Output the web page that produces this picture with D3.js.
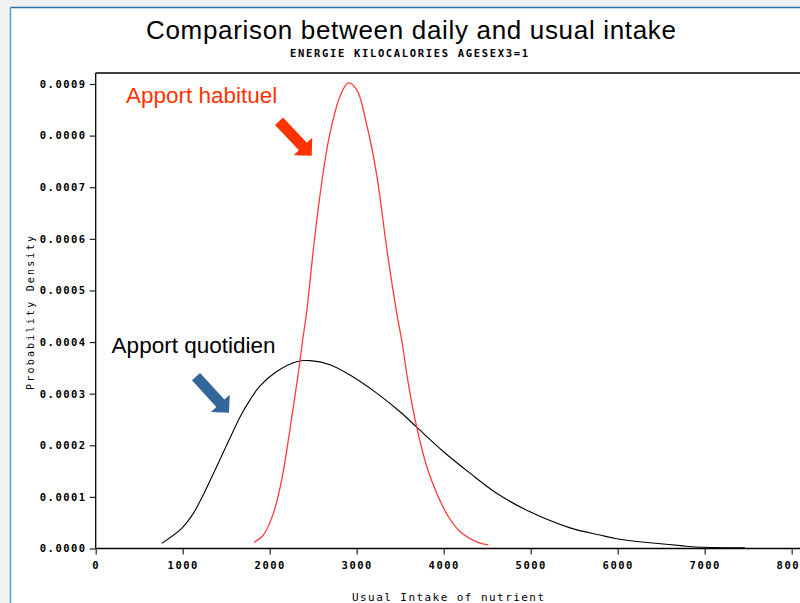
<!DOCTYPE html>
<html>
<head>
<meta charset="utf-8">
<script src="https://cdn.jsdelivr.net/npm/d3@7"></script>
<style>
  html, body { margin: 0; padding: 0; background: #f0f1f1; }
  #chart { width: 800px; height: 603px; }
  svg { display: block; }
</style>
</head>
<body>
<div id="chart"></div>
<script>
// values
const xTicks = [0, 1000, 2000, 3000, 4000, 5000, 6000, 7000, 8000]
const yTicks = [0, 0.0001, 0.0002, 0.0003, 0.0004, 0.0005, 0.0006, 0.0007, 0.0008, 0.0009]
// (the 0.0008 label really says 0.0000 in the original)
const yTickLabels = ["0.0000", "0.0001", "0.0002", "0.0003", "0.0004", "0.0005", "0.0006", "0.0007", "0.0000", "0.0009"]

// daily intake (black)
const dailyX = [759, 988, 1122, 1237, 1391, 1544, 1659, 1774, 1889, 2080, 2310, 2463, 2693, 2923, 3230, 3498, 3690, 3995, 4302, 4609, 4992, 5452, 5797, 5988, 6372, 6754, 6992, 7463]
const dailyY = [0.10, 0.39, 0.68, 1.04, 1.59, 2.14, 2.55, 2.88, 3.15, 3.43, 3.62, 3.64, 3.56, 3.36, 3.01, 2.65, 2.35, 1.88, 1.46, 1.07, 0.71, 0.40, 0.26, 0.19, 0.11, 0.05, 0.023, 0.015].map(d => d * 1e-4)

// usual intake (red)
const usualX = [1820, 1927, 2042, 2138, 2214, 2272, 2329, 2379, 2425, 2521, 2616, 2693, 2808, 2903, 3000, 3115, 3230, 3345, 3460, 3517, 3593, 3690, 3805, 3920, 4053, 4187, 4379, 4513]
const usualY = [0.12, 0.26, 0.68, 1.33, 2.10, 2.75, 3.40, 4.04, 4.59, 6.08, 7.30, 8.05, 8.76, 9.02, 8.89, 8.21, 7.24, 5.82, 4.56, 4.04, 3.20, 2.35, 1.59, 1.07, 0.62, 0.33, 0.13, 0.07].map(d => d * 1e-4)

// annotations (data units)
const noteText = ["Apport habituel", "Apport quotidien"]
const noteX = [348, 183]
const noteY = [0.000863, 0.000379]
const arrowTail = [[2107, 0.000828], [1153, 0.000333]]
const arrowTip = [[2483, 0.000761], [1532, 0.000263]]
const noteColors = ["#ff3300", "#000000"]
const arrowColors = ["#ff3300", "#336699"]

const W = 800, H = 603
const plotLeft = 95.7, plotBottom = 548.5, plotTop = 73

const svg = d3.select("#chart").append("svg").attr("width", W).attr("height", H)

// window frame look
svg.append("rect").attr("x", 0).attr("y", 0).attr("width", W).attr("height", H).attr("fill", "#f0f1f1")
svg.append("rect").attr("x", 11).attr("y", 8).attr("width", W).attr("height", H).attr("fill", "#fff")
svg.append("line").attr("x1", 10.5).attr("x2", W).attr("y1", 7.5).attr("y2", 7.5).attr("stroke", "#2a6ea8").attr("stroke-width", 1.5)
svg.append("line").attr("x1", 10.5).attr("x2", 10.5).attr("y1", 7.5).attr("y2", H).attr("stroke", "#5b9bd0").attr("stroke-width", 1.5)

const x = d3.scaleLinear().domain([0, 8000]).range([plotLeft, 791.7])
const y = d3.scaleLinear().domain([0, 0.0009]).range([plotBottom, 84])

// titles
svg.append("text")
    .attr("x", 411).attr("y", 39)
    .attr("text-anchor", "middle")
    .attr("font-family", "Liberation Sans, Arial, sans-serif")
    .attr("font-size", 26)
    .attr("textLength", 530)
    .text("Comparison between daily and usual intake")

svg.append("text")
    .attr("x", 409).attr("y", 56.5)
    .attr("text-anchor", "middle")
    .attr("font-family", "DejaVu Sans Mono, monospace")
    .attr("font-weight", "bold")
    .attr("font-size", 10.5)
    .attr("textLength", 238)
    .text("ENERGIE KILOCALORIES AGESEX3=1")

// frame lines
const frame = svg.append("g").attr("stroke", "#000").attr("stroke-width", 1.3)
frame.append("line").attr("x1", plotLeft).attr("x2", W).attr("y1", plotTop).attr("y2", plotTop)
frame.append("line").attr("x1", plotLeft).attr("x2", plotLeft).attr("y1", plotTop).attr("y2", plotBottom)
frame.append("line").attr("x1", plotLeft).attr("x2", W).attr("y1", plotBottom).attr("y2", plotBottom)

// y axis
const yAxis = svg.append("g")
    .attr("transform", `translate(${plotLeft},0)`)
    .call(d3.axisLeft(y).tickValues(yTicks).tickSize(6).tickPadding(3)
        .tickFormat((d, i) => yTickLabels[i]))
yAxis.select(".domain").remove()
yAxis.selectAll(".tick line").attr("stroke", "#222").attr("stroke-width", 1.2)
yAxis.selectAll(".tick text")
    .attr("font-family", "DejaVu Sans Mono, monospace")
    .attr("font-weight", "bold")
    .attr("font-size", 10.5)
    .attr("letter-spacing", 1.5)
    .attr("fill", "#000")

// x axis
const xAxis = svg.append("g")
    .attr("transform", `translate(0,${plotBottom})`)
    .call(d3.axisBottom(x).tickValues(xTicks).tickSize(6).tickPadding(7)
        .tickFormat(d3.format("d")))
xAxis.select(".domain").remove()
xAxis.selectAll(".tick line").attr("stroke", "#222").attr("stroke-width", 1.2)
xAxis.selectAll(".tick text")
    .attr("font-family", "DejaVu Sans Mono, monospace")
    .attr("font-weight", "bold")
    .attr("font-size", 10.5)
    .attr("letter-spacing", 1.5)
    .attr("fill", "#000")

// axis titles
svg.append("text")
    .attr("x", 448).attr("y", 601)
    .attr("text-anchor", "middle")
    .attr("font-family", "DejaVu Sans Mono, monospace")
    .attr("font-size", 11)
    .attr("textLength", 192)
    .text("Usual Intake of nutrient")

svg.append("text")
    .attr("transform", "translate(34,313) rotate(-90)")
    .attr("text-anchor", "middle")
    .attr("font-family", "DejaVu Sans Mono, monospace")
    .attr("font-size", 10)
    .attr("textLength", 154)
    .text("Probability Density")

// curves
const line = d3.line().x(d => x(d[0])).y(d => y(d[1])).curve(d3.curveCatmullRom.alpha(0.5))

svg.append("path")
    .datum(dailyX.map((d, i) => [d, dailyY[i]]))
    .attr("d", line)
    .attr("fill", "none")
    .attr("stroke", "#000")
    .attr("stroke-width", 1.1)

svg.append("path")
    .datum(usualX.map((d, i) => [d, usualY[i]]))
    .attr("d", line)
    .attr("fill", "none")
    .attr("stroke", "#ff3a3a")
    .attr("stroke-width", 1.3)

// annotation labels
svg.selectAll(".note")
    .data(noteText)
    .join("text")
    .attr("class", "note")
    .attr("x", (d, i) => x(noteX[i]))
    .attr("y", (d, i) => y(noteY[i]))
    .attr("font-family", "Liberation Sans, Arial, sans-serif")
    .attr("font-size", 22.5)
    .attr("fill", (d, i) => noteColors[i])
    .text(d => d)

// block arrows
function arrowPath(t, p) {
    const x0 = x(t[0]), y0 = y(t[1]), x1 = x(p[0]), y1 = y(p[1])
    const len = Math.hypot(x1 - x0, y1 - y0)
    const ux = (x1 - x0) / len, uy = (y1 - y0) / len
    const nx = -uy, ny = ux
    const sw = 5.5, hw = 12.8, hl = 12.8
    const pts = [
        [0, sw], [len - hl, sw], [len - hl, hw], [len, 0],
        [len - hl, -hw], [len - hl, -sw], [0, -sw]
    ].map(([a, b]) => [x0 + ux * a + nx * b, y0 + uy * a + ny * b])
    return "M" + pts.map(q => q.join(",")).join("L") + "Z"
}

svg.selectAll(".arrow")
    .data(arrowTail)
    .join("path")
    .attr("class", "arrow")
    .attr("d", (d, i) => arrowPath(d, arrowTip[i]))
    .attr("fill", (d, i) => arrowColors[i])
</script>
</body>
</html>
